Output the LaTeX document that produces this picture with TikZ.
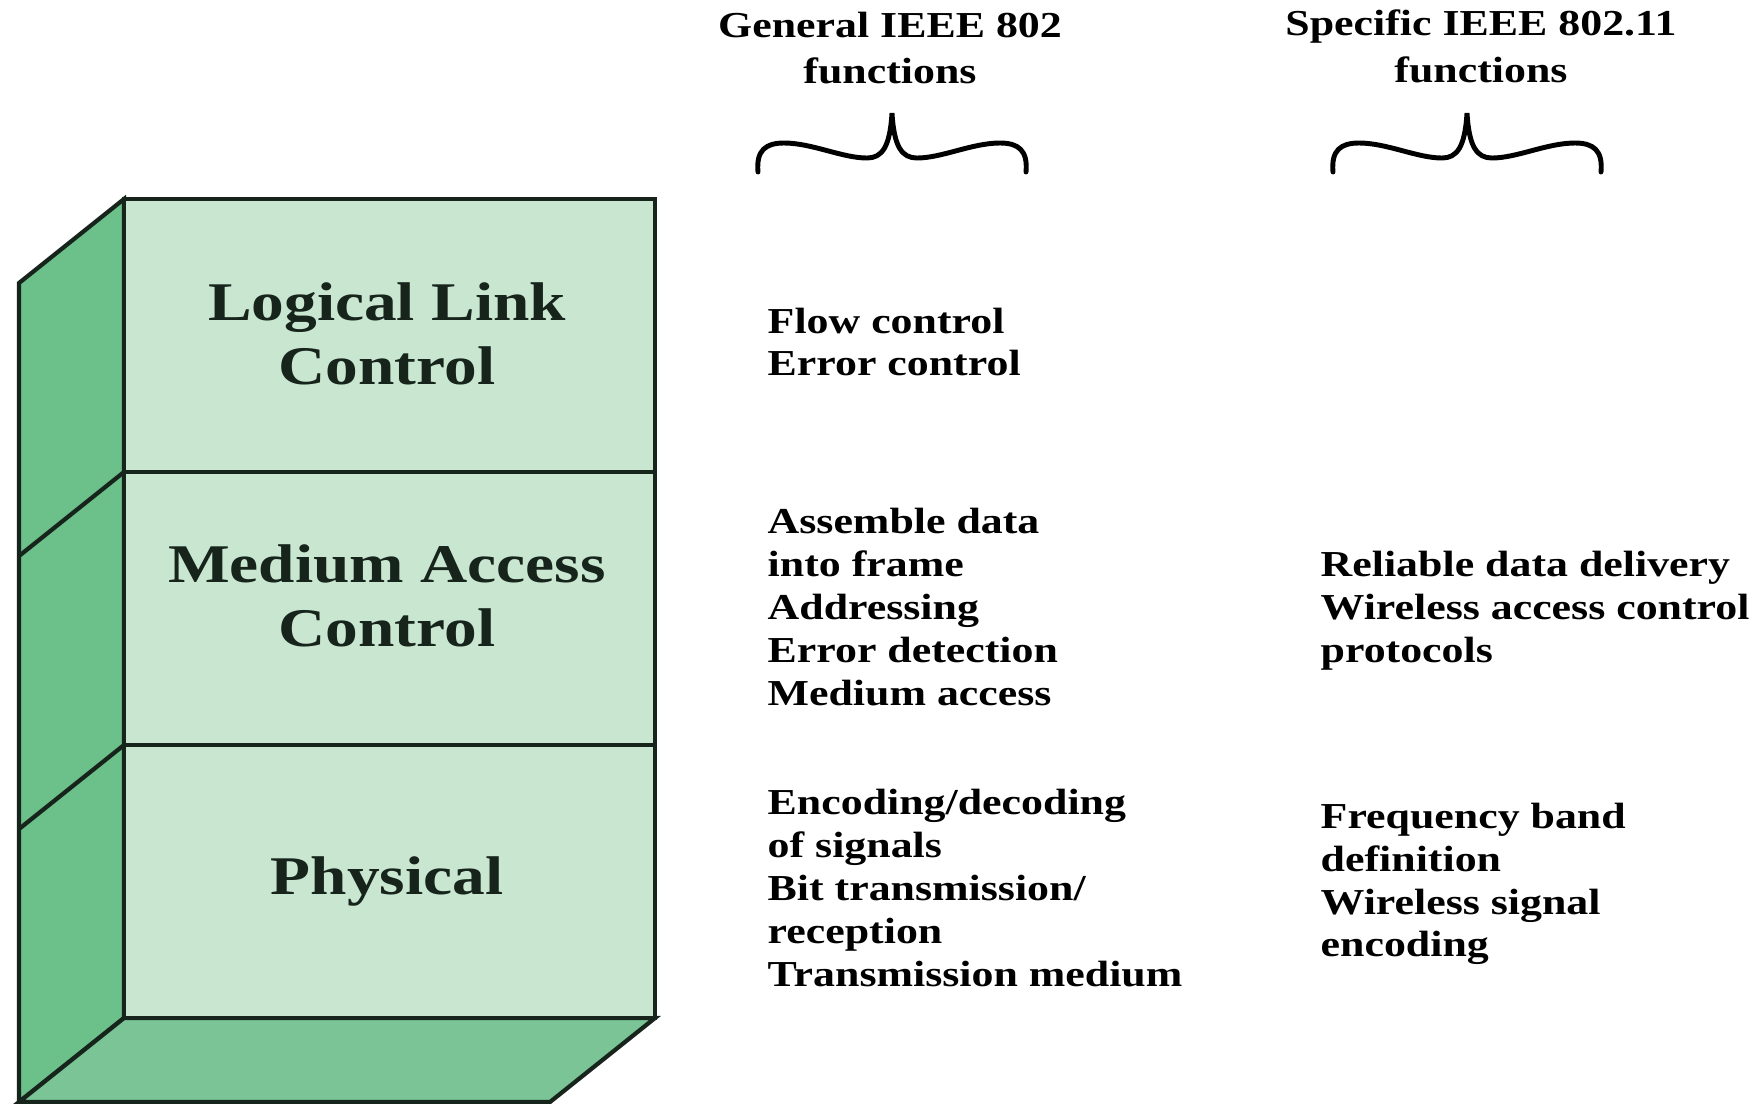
\documentclass[tikz,border=0pt]{standalone}
\usepackage{fontspec}
\setmainfont{Liberation Serif}[FakeStretch=1.2]
\usetikzlibrary{positioning}
\definecolor{faceLight}{RGB}{200,230,208}
\definecolor{faceDark}{RGB}{108,192,138}
\definecolor{faceBottom}{RGB}{122,196,150}
\definecolor{edgeDark}{RGB}{22,36,28}
\tikzset{
    edge/.style={
        draw=edgeDark,
        line width=1.2pt,
        line join=miter},
    layer/.style={
        font=\fontsize{15.5}{18.2}\selectfont\bfseries,
        align=center,
        text=edgeDark},
    func/.style={
        font=\fontsize{10.4}{12.2}\selectfont\bfseries,
        align=left,
        anchor=west,
        inner sep=0pt},
    head/.style={
        font=\fontsize{10.4}{13.3}\selectfont\bfseries,
        align=center,
        inner sep=0pt},
    curlybrace/.pic={
        \draw[line width=1.4pt, line cap=round]
            (-134,0) .. controls (-136,-22) and (-126,-29) .. (-108,-29)
            .. controls (-80,-29) and (-50,-14) .. (-25,-14)
            .. controls (-10,-14) and (-2,-25) .. (0,-59)
            .. controls (2,-25) and (10,-14) .. (25,-14)
            .. controls (50,-14) and (80,-29) .. (108,-29)
            .. controls (126,-29) and (136,-22) .. (134,0);}}

\begin{document}
\begin{tikzpicture}[x=0.1mm,y=-0.1mm]
    \useasboundingbox (0,0) rectangle (1764,1104);
    % front face corners and depth
    \coordinate (ftl) at (124,199);
    \coordinate (ftr) at (655,199);
    \coordinate (fbl) at (124,1018);
    \coordinate (fbr) at (655,1018);
    \coordinate (btl) at (19,283);
    \coordinate (bbl) at (19,1102);
    \coordinate (bbr) at (550,1102);
    % side and bottom faces
    \filldraw[edge, fill=faceDark] (ftl) -- (btl) -- (bbl) -- (fbl) -- cycle;
    \filldraw[edge, fill=faceBottom] (fbl) -- (fbr) -- (bbr) -- (bbl) -- cycle;
    \filldraw[edge, fill=faceLight] (ftl) rectangle (fbr);
    % layer dividers
    \draw[edge] (124,472) -- (655,472);
    \draw[edge] (124,745) -- (655,745);
    \draw[edge] (124,472) -- (19,556);
    \draw[edge] (124,745) -- (19,829);

    \node[layer] (llc) at (387,334) {Logical Link\\Control};
    \node[layer] (mac) at (387,596) {Medium Access\\Control};
    \node[layer] (phy) at (387,881) {Physical};

    \node[head] (genHead) at (890,48) {General IEEE 802\\functions};
    \node[head] (specHead) at (1481,46) {Specific IEEE 802.11\\functions};
    \pic (genBrace) at (892,172) {curlybrace};
    \pic (specBrace) at (1467,172) {curlybrace};

    \node[func] (llcGen) at (767,342) {Flow control\\Error control};
    \node[func] (macGen) at (767,607) {Assemble data\\into frame\\Addressing\\Error detection\\Medium access};
    \node[func] (phyGen) at (767,888) {Encoding/decoding\\of signals\\Bit transmission/\\reception\\Transmission medium};
    \node[func] (macSpec) at (1320,611) {Reliable data delivery\\Wireless access control\\protocols};
    \node[func] (phySpec) at (1320,884) {Frequency band\\definition\\Wireless signal\\encoding};
\end{tikzpicture}
\end{document}
